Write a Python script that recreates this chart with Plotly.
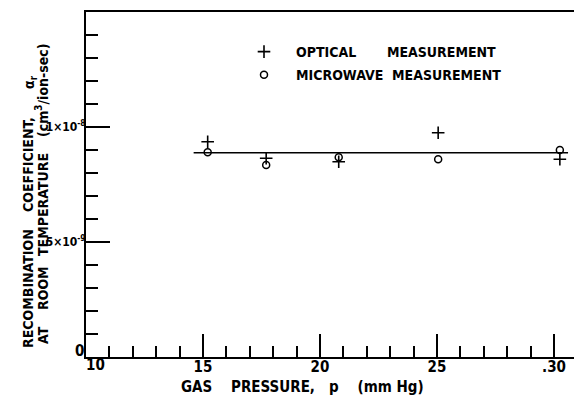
import plotly.graph_objects as go

# Data
optical_p = [15.2, 17.7, 20.8, 25.05, 30.25]
optical_a = [9.36e-9, 8.64e-9, 8.49e-9, 9.75e-9, 8.6e-9]
micro_p = [15.2, 17.7, 20.8, 25.05, 30.25]
micro_a = [8.9e-9, 8.35e-9, 8.68e-9, 8.6e-9, 9.0e-9]
fit_p = [14.6, 30.6]
fit_a = [8.88e-9, 8.88e-9]
x_tickvals = [15, 20, 25, 30]
x_ticktext = ["15", "20", "25", ".30"]
x_origin_label = "10"
y_tickvals = [5e-9, 1e-8]
y_ticktext = ["5×10<sup>-9</sup>", "1×10<sup>-8</sup>"]
y_origin_label = "0"

FONT = "DejaVu Sans Condensed, Liberation Sans Narrow, Liberation Sans, Arial, sans-serif"
W, H = 574, 396
L, R, T, B = 86, 0, 12, 39
x_range = [10, 10 + (W - L - R) / 23.4]
y_range = [0, 1.5e-8]
NB = "\u00a0"

fig = go.Figure()
fig.add_trace(go.Scatter(x=fit_p, y=fit_a, mode="lines", line=dict(color="black", width=1.5),
                         showlegend=False, hoverinfo="skip"))
fig.add_trace(go.Scatter(x=optical_p, y=optical_a, mode="markers",
                         name="<b>OPTICAL" + NB * 7 + "MEASUREMENT</b>",
                         legendgroup="a",
                         marker=dict(symbol="cross-thin", size=9, line=dict(color="black", width=1.6), color="black")))
fig.add_trace(go.Scatter(x=micro_p, y=micro_a, mode="markers",
                         name="<b>MICROWAVE" + NB * 2 + "MEASUREMENT</b>",
                         legendgroup="b",
                         marker=dict(symbol="circle-open", size=7, line=dict(color="black", width=1.5), color="black")))

def px2paper_x(px):
    return (px - L) / (W - L - R)

def px2paper_y(py):
    return (H - B - py) / (H - T - B)

# y-axis title pieces (two rotated lines)
ytitle = [
    ("RECOMBINATION", 28, 289),
    ("COEFFICIENT,", 28, 165),
    ("α<sub>r</sub>", 30, 82),
    ("AT", 43, 335),
    ("ROOM", 43, 288),
    ("TEMPERATURE", 43, 205),
    ("(cm<sup>3</sup>/ion-sec)", 42, 90),
]
for txt, px, py in ytitle:
    fig.add_annotation(text="<b>" + txt + "</b>", x=px2paper_x(px), y=px2paper_y(py), xref="paper", yref="paper",
                       showarrow=False, textangle=-90, xanchor="center", yanchor="middle",
                       font=dict(size=14, color="black", family=FONT))

# x-axis title
fig.add_annotation(text="<b>GAS" + NB * 4 + "PRESSURE," + NB * 3 + "p" + NB * 4 + "(mm" + NB + "Hg)</b>",
                   x=px2paper_x(302), y=px2paper_y(387), xref="paper", yref="paper",
                   showarrow=False, xanchor="center", yanchor="middle",
                   font=dict(size=15, color="black", family=FONT))

# origin labels (offset from the corner as in the original)
fig.add_annotation(text="<b>" + x_origin_label + "</b>", x=px2paper_x(95), y=px2paper_y(365),
                   xref="paper", yref="paper", showarrow=False, xanchor="center", yanchor="middle",
                   font=dict(size=15, color="black", family=FONT))
fig.add_annotation(text="<b>" + y_origin_label + "</b>", x=px2paper_x(79), y=px2paper_y(351),
                   xref="paper", yref="paper", showarrow=False, xanchor="center", yanchor="middle",
                   font=dict(size=15, color="black", family=FONT))

fig.update_layout(
    width=W, height=H,
    margin=dict(l=L, r=R, t=T, b=B),
    paper_bgcolor="white", plot_bgcolor="white",
    font=dict(family=FONT, color="black", size=14),
    legend=dict(x=px2paper_x(232), y=px2paper_y(36), xanchor="left", yanchor="top",
                bgcolor="rgba(0,0,0,0)", font=dict(size=14, family=FONT),
                tracegroupgap=2, itemwidth=54),
    xaxis=dict(range=x_range, showgrid=False, zeroline=False, showline=True, linecolor="black", linewidth=2,
               mirror=True, ticks="inside", ticklen=23, tickwidth=1.5, tickcolor="black",
               tickvals=x_tickvals, ticktext=["<b>" + t + "</b>" for t in x_ticktext],
               tickfont=dict(size=15), ticklabelstandoff=-5,
               minor=dict(dtick=1, tick0=10, ticks="inside", ticklen=11, tickwidth=1.5, tickcolor="black")),
    yaxis=dict(range=y_range, showgrid=False, zeroline=False, showline=True, linecolor="black", linewidth=2,
               ticks="inside", ticklen=24, tickwidth=1.5, tickcolor="black",
               tickvals=y_tickvals, ticktext=["<b>" + t + "</b>" for t in y_ticktext], tickfont=dict(size=12),
               ticklabelstandoff=-4,
               minor=dict(dtick=1e-9, tick0=0, ticks="inside", ticklen=12, tickwidth=1.5, tickcolor="black")),
)

fig.write_html("out.html")
